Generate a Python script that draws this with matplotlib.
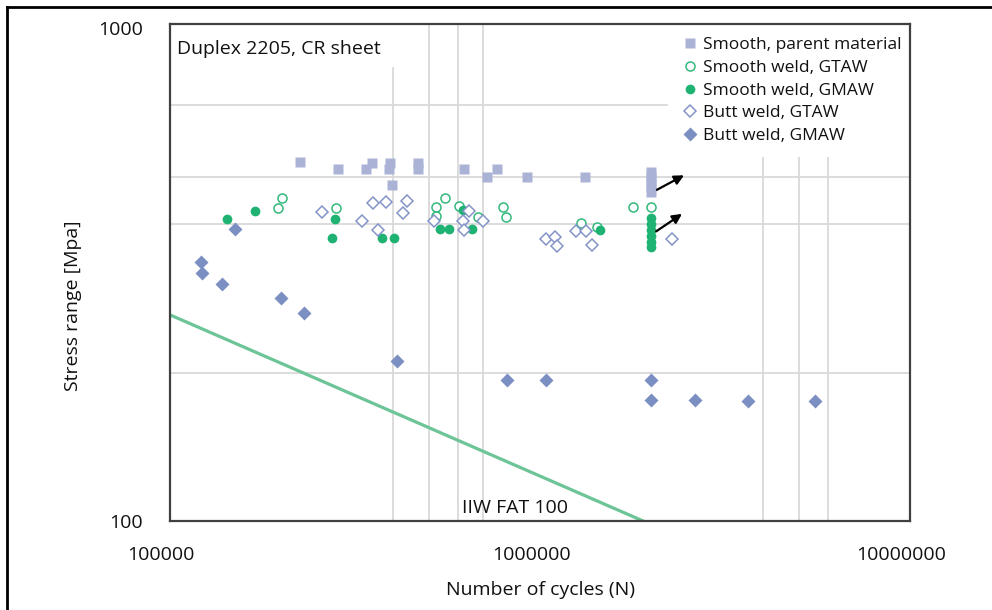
import matplotlib
matplotlib.use('Agg')
import matplotlib.pyplot as plt
import matplotlib.transforms as mtransforms
from matplotlib.lines import Line2D

plt.rcParams['font.family'] = ['Open Sans', 'DejaVu Sans']

# --- data (cycles N, stress range MPa) ---
parent_n = [2.25e5, 2.84e5, 3.39e5, 3.52e5, 3.93e5, 3.91e5, 3.98e5, 4.68e5, 4.68e5,
            6.23e5, 7.19e5, 7.65e5, 9.22e5, 1.32e6, 2.0e6, 2.0e6, 2.0e6, 2.0e6, 2.0e6]
parent_s = [536, 518, 518, 533, 533, 518, 481, 533, 518,
            518, 499, 518, 499, 499, 511, 499, 487, 476, 465]

gtaw_n = [2.01e5, 1.96e5, 2.81e5, 5.24e5, 5.24e5, 5.54e5, 6.04e5, 6.80e5, 7.94e5,
          8.09e5, 1.29e6, 1.43e6, 1.78e6, 2.0e6]
gtaw_s = [452, 432, 432, 434, 416, 452, 436, 414, 434,
          414, 403, 395, 434, 434]

gmaw_n = [1.43e5, 1.70e5, 2.79e5, 2.74e5, 3.74e5, 4.03e5, 5.37e5, 5.68e5, 6.19e5,
          6.55e5, 1.45e6, 2.0e6, 2.0e6, 2.0e6, 2.0e6, 2.0e6, 2.0e6]
gmaw_s = [410, 426, 410, 375, 375, 375, 391, 391, 428,
          391, 390, 412, 401, 390, 379, 368, 360]

butt_gtaw_n = [2.58e5, 3.30e5, 3.54e5, 3.65e5, 3.84e5, 4.26e5, 4.37e5, 5.17e5, 6.19e5,
               6.23e5, 6.43e5, 7.01e5, 1.04e6, 1.10e6, 1.11e6, 1.25e6, 1.33e6, 1.38e6, 2.27e6]
butt_gtaw_s = [424, 406, 442, 390, 444, 422, 446, 406, 406,
               390, 426, 406, 373, 377, 361, 388, 388, 363, 373]

butt_gmaw_n = [1.50e5, 1.21e5, 1.22e5, 1.38e5, 2.0e5, 2.30e5, 4.11e5, 8.14e5, 1.04e6,
               2.0e6, 2.0e6, 2.62e6, 3.65e6, 5.54e6]
butt_gmaw_s = [391, 335, 319, 303, 284, 264, 211, 193, 193,
               193, 176, 176, 175, 175]

fat_n = [1.0e5, 1.9e6]
fat_s = [262, 100]

# run-outs (arrow start -> end)
runout_start = [(2.07e6, 470), (2.06e6, 387)]
runout_end = [(2.45e6, 503), (2.42e6, 420)]

x_ticks = [1e5, 1e6, 1e7]
y_ticks = [100, 1000]

fig = plt.figure(figsize=(9.92, 6.10), dpi=100)
ax = fig.add_axes([170 / 992, 89 / 610, 740 / 992, 497 / 610])
ax.set_xscale('log')
ax.set_yscale('log')
ax.set_xlim(1e5, 1e7)
ax.set_ylim(100, 1020)

# grid lines (some are hidden behind the title box / legend in the original)
grid_kw = dict(color='#d9d9d9', lw=1.3, zorder=0)
ax.hlines(700, 1e5, 2.22e6, **grid_kw)
for yv in [500, 400, 200]:
    ax.hlines(yv, 1e5, 1e7, **grid_kw)
ax.vlines(4e5, 100, 834, **grid_kw)
for xv in [5e5, 6e5, 7e5]:
    ax.vlines(xv, 100, 1020, **grid_kw)
for xv in [4e6, 5e6, 6e6]:
    ax.vlines(xv, 100, 548, **grid_kw)

ax.plot(fat_n, fat_s, color='#6cc497', lw=2.3, zorder=2)

ax.plot(parent_n, parent_s, 's', ms=7.8, color='#aab3d6', mec='none', zorder=3,
        label='Smooth, parent material')
ax.plot(gtaw_n, gtaw_s, 'o', ms=6.5, mfc='white', mec='#33b97c', mew=1.1, zorder=3,
        label='Smooth weld, GTAW')
ax.plot(gmaw_n, gmaw_s, 'o', ms=7, color='#1eb273', mec='none', zorder=3,
        label='Smooth weld, GMAW')
ax.plot(butt_gtaw_n, butt_gtaw_s, 'D', ms=6.5, mfc='white', mec='#8494c8', mew=1.1, zorder=3,
        label='Butt weld, GTAW')
ax.plot(butt_gmaw_n, butt_gmaw_s, 'D', ms=7.5, color='#7b8fc2', mec='none', zorder=3,
        label='Butt weld, GMAW')

for s, e in zip(runout_start, runout_end):
    ax.annotate('', xy=e, xytext=s,
                arrowprops=dict(arrowstyle='-|>', color='black', lw=1.6,
                                mutation_scale=14, shrinkA=0, shrinkB=0), zorder=4)

txt_color = '#111111'
ax.text(6.15e5, 106.5, 'IIW FAT 100', fontsize=14, color=txt_color, va='center')
ax.text(0.009, 0.95, 'Duplex 2205, CR sheet', transform=ax.transAxes,
        fontsize=14, color=txt_color, va='center')

leg = ax.legend(loc='upper left', bbox_to_anchor=(685 / 992, 1 - 37 / 610),
                bbox_transform=fig.transFigure, frameon=False, fontsize=12.5,
                handlelength=0.6, handletextpad=0.44, labelspacing=0.38,
                borderpad=0, borderaxespad=0)
for t in leg.get_texts():
    t.set_color(txt_color)

ax.set_xticks(x_ticks)
ax.set_xticklabels(['100000', '1000000', '10000000'])
ax.set_yticks(y_ticks)
ax.set_yticklabels(['100', '1000'])
ax.minorticks_off()
ax.tick_params(length=0, labelsize=14, labelcolor=txt_color)
ax.tick_params(axis='x', pad=18)
ax.tick_params(axis='y', pad=19.5)
shift = mtransforms.ScaledTranslation(-9 / 100, 0, fig.dpi_scale_trans)
for lbl in ax.get_xticklabels():
    lbl.set_transform(lbl.get_transform() + shift)

ax.set_xlabel('Number of cycles (N)', fontsize=14, color=txt_color)
ax.set_ylabel('Stress range [Mpa]', fontsize=14, color=txt_color)
ax.xaxis.set_label_coords((541 - 170) / 740, (521 - 590) / 497)
ax.yaxis.set_label_coords((73 - 170) / 740, (521 - 306) / 497)
ax.xaxis.label.set_va('center')
ax.yaxis.label.set_va('center')

for sp in ax.spines.values():
    sp.set_color('#404040')
    sp.set_linewidth(1.6)

# outer frame of the picture (top and left edges)
fig.add_artist(Line2D([7 / 992, 1], [1 - 7 / 610, 1 - 7 / 610], color='black', lw=2,
                      transform=fig.transFigure))
fig.add_artist(Line2D([7 / 992, 7 / 992], [0, 1 - 7 / 610], color='black', lw=2,
                      transform=fig.transFigure))

fig.savefig('out.png', dpi=100)
